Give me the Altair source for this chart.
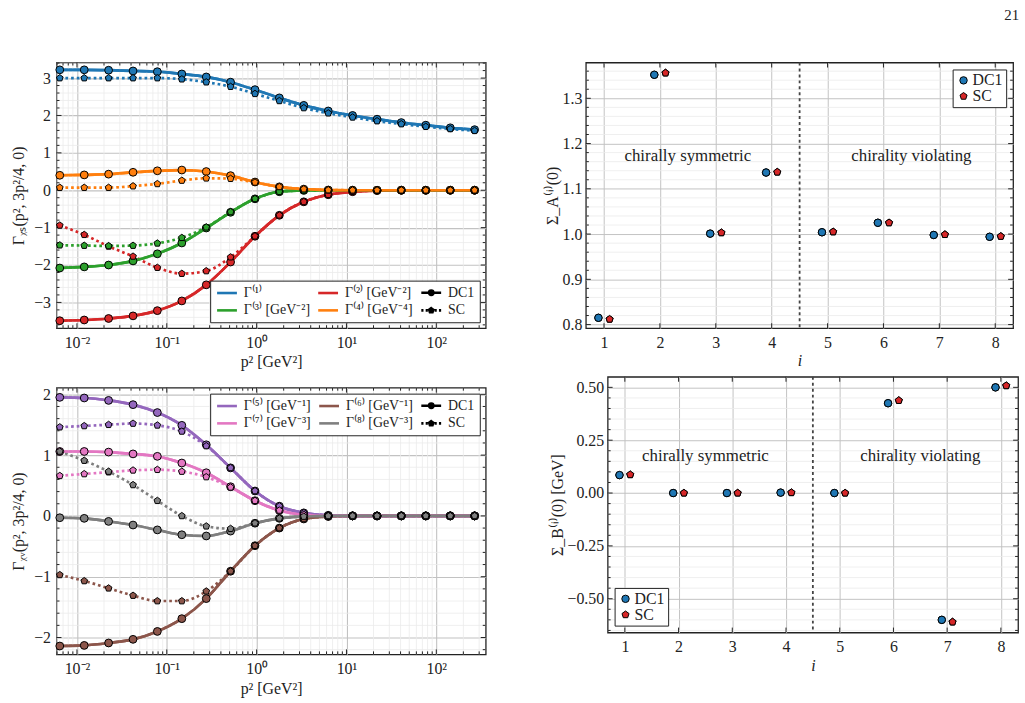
import altair as alt
import numpy as np
import pandas as pd

FONT = "Liberation Serif"
INK = "#222222"

# ---------------- data ----------------
P2 = [0.00644, 0.01205, 0.0225, 0.0421, 0.0785, 0.147, 0.275, 0.513, 0.959,
      1.79, 3.35, 6.27, 11.7, 21.9, 40.8, 76.4, 143, 267]

S_NAMES = ["Γ⁽¹⁾", "Γ⁽²⁾ [GeV⁻²]", "Γ⁽³⁾ [GeV⁻²]", "Γ⁽⁴⁾ [GeV⁻⁴]"]
S_COLORS = ["#1f77b4", "#d62728", "#2ca02c", "#ff7f0e"]

G1_DC1 = [3.22, 3.22, 3.21, 3.19, 3.17, 3.11, 3.03, 2.89, 2.69, 2.47, 2.27, 2.12, 2.00, 1.90, 1.81, 1.74, 1.67, 1.62]
G1_SC = [3.00, 3.00, 3.00, 3.00, 3.00, 2.97, 2.89, 2.77, 2.58, 2.39, 2.20, 2.06, 1.95, 1.85, 1.77, 1.70, 1.64, 1.59]
G2_DC1 = [-3.49, -3.47, -3.43, -3.36, -3.22, -2.96, -2.53, -1.92, -1.23, -0.67, -0.31, -0.12, -0.04, -0.01, 0, 0, 0, 0]
G2_SC = [-0.94, -1.19, -1.50, -1.77, -2.07, -2.23, -2.16, -1.79, -1.23, -0.67, -0.31, -0.12, -0.04, -0.01, 0, 0, 0, 0]
G3_DC1 = [-2.08, -2.05, -2.00, -1.89, -1.70, -1.41, -1.01, -0.59, -0.23, -0.04, -0.005, 0, 0, 0, 0, 0, 0, 0]
G3_SC = [-1.47, -1.48, -1.49, -1.48, -1.42, -1.27, -0.99, -0.58, -0.23, -0.04, -0.005, 0, 0, 0, 0, 0, 0, 0]
G4_DC1 = [0.40, 0.41, 0.43, 0.48, 0.52, 0.54, 0.50, 0.39, 0.22, 0.09, 0.03, 0.005, 0, 0, 0, 0, 0, 0]
G4_SC = [0.07, 0.07, 0.07, 0.11, 0.17, 0.26, 0.32, 0.31, 0.21, 0.09, 0.03, 0.005, 0, 0, 0, 0, 0, 0]

V_NAMES = ["Γ⁽⁵⁾ [GeV⁻¹]", "Γ⁽⁶⁾ [GeV⁻¹]", "Γ⁽⁷⁾ [GeV⁻³]", "Γ⁽⁸⁾ [GeV⁻³]"]
V_COLORS = ["#9467bd", "#8c564b", "#e377c2", "#7f7f7f"]

G5_DC1 = [1.95, 1.94, 1.90, 1.83, 1.70, 1.49, 1.17, 0.79, 0.41, 0.16, 0.05, 0.01, 0, 0, 0, 0, 0, 0]
G5_SC = [1.46, 1.48, 1.50, 1.52, 1.49, 1.39, 1.15, 0.79, 0.41, 0.16, 0.05, 0.01, 0, 0, 0, 0, 0, 0]
G6_DC1 = [-2.14, -2.13, -2.09, -2.03, -1.90, -1.69, -1.36, -0.91, -0.49, -0.20, -0.05, -0.01, 0, 0, 0, 0, 0, 0]
G6_SC = [-0.97, -1.07, -1.19, -1.31, -1.40, -1.40, -1.24, -0.91, -0.49, -0.20, -0.05, -0.01, 0, 0, 0, 0, 0, 0]
G7_DC1 = [1.06, 1.06, 1.05, 1.02, 0.98, 0.87, 0.71, 0.48, 0.25, 0.09, 0.02, 0, 0, 0, 0, 0, 0, 0]
G7_SC = [0.66, 0.69, 0.72, 0.75, 0.76, 0.73, 0.64, 0.47, 0.25, 0.09, 0.02, 0, 0, 0, 0, 0, 0, 0]
G8_DC1 = [-0.03, -0.04, -0.09, -0.15, -0.23, -0.31, -0.33, -0.25, -0.12, -0.04, -0.01, 0, 0, 0, 0, 0, 0, 0]
G8_SC = [1.06, 0.91, 0.73, 0.51, 0.25, 0.00, -0.17, -0.21, -0.12, -0.04, -0.01, 0, 0, 0, 0, 0, 0, 0]

IDX = [1, 2, 3, 4, 5, 6, 7, 8]
SA_DC1 = [0.815, 1.352, 1.001, 1.136, 1.004, 1.025, 0.998, 0.994]
SA_SC = [0.812, 1.356, 1.003, 1.137, 1.005, 1.025, 0.999, 0.995]
SB_DC1 = [0.085, 0.0, 0.0, 0.002, 0.0, 0.425, -0.60, 0.50]
SB_SC = [0.087, 0.0, 0.0, 0.002, 0.0, 0.438, -0.61, 0.508]

ANNOT = ["chirally symmetric", "chirality violating"]
ANNOT_X = [2.5, 6.5]
METHODS = ["DC1", "SC"]
M_COLORS = ["#1f77b4", "#d62728"]

# ---------------- styling helpers ----------------
PENT = "M0,-1L0.951,-0.309L0.588,0.809L-0.588,0.809L-0.951,-0.309Z"
# legend symbols (symbolSize 100 -> 5 px per unit); drawn from x=-5px to x=+15px
SYM_LINE = "M-1,0H3"
SYM_DC1 = ("M-1,0H3M1.44,0A0.44,0.44,0,1,1,0.56,0A0.44,0.44,0,1,1,1.44,0Z"
           "M1.18,0A0.18,0.18,0,1,1,0.82,0A0.18,0.18,0,1,1,1.18,0Z")
SYM_SC = ("M-1,0H-0.56M-0.12,0H0.32M1.68,0H2.12M2.56,0H3"
          "M1,-0.44L1.418,-0.136L1.259,0.356L0.741,0.356L0.582,-0.136Z"
          "M1,-0.16L1.152,-0.049L1.094,0.129L0.906,0.129L0.848,-0.049Z")
SYM_EXPR = ("datum.value === 'DC1' ? '" + SYM_DC1 + "' : (datum.value === 'SC' ? '"
            + SYM_SC + "' : '" + SYM_LINE + "')")
LOG_LBL = ("datum.value < 0.05 ? '10⁻²' : datum.value < 0.5 ? '10⁻¹' : "
           "datum.value < 5 ? '10⁰' : datum.value < 50 ? '10¹' : '10²'")

GRID_MAJOR = "#c2c2c2"
GRID_MINOR = "#ebebeb"
XDOM = [0.00592, 355]
X_MAJ = [0.01, 0.1, 1, 10, 100]
X_MIN = [m * 10.0 ** e for e in range(-3, 3) for m in range(2, 10)
         if XDOM[0] < m * 10.0 ** e < XDOM[1]]
INDEP = dict(color="independent", shape="independent", x="independent", y="independent")


def minor_ticks(lo, hi, step, major_step):
    vals = np.round(np.arange(np.ceil(lo / step) * step, hi, step), 6)
    out = []
    for v in vals:
        r = v / major_step
        if abs(r - round(r)) > 1e-6 and lo < v < hi:
            out.append(float(v))
    return out


def vrule(vals, xs, xaxis, color=INK, width=1.0, y0=None, y1=None):
    enc = dict(x=alt.X("v:Q", scale=xs, axis=xaxis))
    if y0 is not None:
        enc["y"] = alt.value(y0)
        enc["y2"] = alt.value(y1)
    return alt.Chart(pd.DataFrame({"v": vals})).mark_rule(
        color=color, strokeWidth=width).encode(**enc)


def hrule(vals, ys, yaxis, color=INK, width=1.0, x0=None, x1=None):
    enc = dict(y=alt.Y("v:Q", scale=ys, axis=yaxis))
    if x0 is not None:
        enc["x"] = alt.value(x0)
        enc["x2"] = alt.value(x1)
    return alt.Chart(pd.DataFrame({"v": vals})).mark_rule(
        color=color, strokeWidth=width).encode(**enc)


def frame(xs, ys, xaxis, yaxis, xmaj, xmin, ymaj, ymin, W, H):
    L = []
    if xmin:
        L.append(vrule(xmin, xs, xaxis, color=GRID_MINOR, width=0.8))
    if ymin:
        L.append(hrule(ymin, ys, yaxis, color=GRID_MINOR, width=0.8))
    for vals, ln in ((xmaj, 5), (xmin, 3)):
        if vals:
            L.append(vrule(vals, xs, xaxis, y0=H, y1=H - ln))
            L.append(vrule(vals, xs, xaxis, y0=0, y1=ln))
    for vals, ln in ((ymaj, 5), (ymin, 3)):
        if vals:
            L.append(hrule(vals, ys, yaxis, x0=0, x1=ln))
            L.append(hrule(vals, ys, yaxis, x0=W, x1=W - ln))
    return L


def left_panel(names, colors, dc1, sc, ydom, ymaj, ytitle, lorient, W, H):
    rows = []
    for n, a, b in zip(names, dc1, sc):
        for x, v in zip(P2, a):
            rows.append({"series": n, "method": "DC1", "p2": x, "val": v})
        for x, v in zip(P2, b):
            rows.append({"series": n, "method": "SC", "p2": x, "val": v})
    df = pd.DataFrame(rows)
    entries = [names[0], names[1], "DC1", names[2], names[3], "SC"]
    ecolors = [colors[0], colors[1], "black", colors[2], colors[3], "black"]
    cs = alt.Scale(domain=entries, range=ecolors)
    xs = alt.Scale(type="log", domain=XDOM, nice=False)
    ys = alt.Scale(domain=ydom, nice=False, zero=False)
    ymin = minor_ticks(ydom[0], ydom[1], 0.2, 1.0)

    xaxis = alt.Axis(values=X_MAJ, labelExpr=LOG_LBL, title="p² [GeV²]", grid=True,
                     gridColor=GRID_MAJOR, gridWidth=1.1, ticks=False, domain=False,
                     labelPadding=6, titlePadding=4, labelFlush=False)
    yaxis = alt.Axis(values=ymaj, title=ytitle, grid=True, gridColor=GRID_MAJOR,
                     gridWidth=1.1, ticks=False, domain=False, labelPadding=6,
                     titlePadding=7)
    leg = alt.Legend(title=None, orient=lorient, direction="horizontal", columns=3,
                     symbolType={"expr": SYM_EXPR}, symbolSize=100,
                     symbolStrokeWidth=2.6, labelFont=FONT, labelFontSize=14,
                     labelOffset=15, columnPadding=2, rowPadding=2, padding=5,
                     strokeColor=INK, fillColor="white", offset=6, cornerRadius=0)

    base = alt.Chart(df)
    X = alt.X("p2:Q", scale=xs, axis=xaxis)
    Y = alt.Y("val:Q", scale=ys, axis=yaxis)
    lines_dc1 = base.transform_filter("datum.method === 'DC1'").mark_line(
        strokeWidth=2.7, interpolate="monotone", clip=True).encode(
        x=X, y=Y, color=alt.Color("series:N", scale=cs, legend=leg),
        detail="series:N")
    lines_sc = base.transform_filter("datum.method === 'SC'").mark_line(
        strokeWidth=2.7, interpolate="monotone", strokeDash=[2.7, 3], clip=True).encode(
        x=X, y=Y, color=alt.Color("series:N", scale=cs, legend=None), detail="series:N")
    pts_dc1 = base.transform_filter("datum.method === 'DC1'").mark_point(
        shape="circle", filled=True, size=62, stroke="black", strokeWidth=1.0,
        opacity=1).encode(x=X, y=Y, color=alt.Color("series:N", scale=cs, legend=None))
    pts_sc = base.transform_filter("datum.method === 'SC'").mark_point(
        shape=PENT, filled=True, size=50, stroke="black", strokeWidth=1.0,
        opacity=1).encode(x=X, y=Y, color=alt.Color("series:N", scale=cs, legend=None))

    layers = [lines_dc1]
    layers += frame(xs, ys, xaxis, yaxis, X_MAJ, X_MIN, ymaj, ymin, W, H)
    layers += [lines_sc, lines_dc1, pts_dc1, pts_sc]
    return alt.layer(*layers).properties(width=W, height=H)


def right_panel(dc1, sc, xdom, ydom, ymaj, ymin_step, ymaj_step, yfmt, ytitle,
                txt_y, lorient, W, H):
    rows = []
    for k, (a, b) in enumerate(zip(dc1, sc)):
        rows.append({"i": IDX[k], "method": "DC1", "val": a})
        rows.append({"i": IDX[k], "method": "SC", "val": b})
    df = pd.DataFrame(rows)
    xs = alt.Scale(domain=xdom, nice=False, zero=False)
    ys = alt.Scale(domain=ydom, nice=False, zero=False)
    ymin = minor_ticks(ydom[0], ydom[1], ymin_step, ymaj_step)

    xaxis = alt.Axis(values=IDX, format="d", title="i", titleFontStyle="italic",
                     grid=True, gridColor=GRID_MAJOR, gridWidth=1.0, ticks=False,
                     domain=False, labelPadding=6, titlePadding=3)
    yaxis = alt.Axis(values=ymaj, format=yfmt, title=ytitle, grid=True,
                     gridColor=GRID_MAJOR, gridWidth=1.0, ticks=False, domain=False,
                     labelPadding=4, titlePadding=2)
    leg = alt.Legend(title=None, orient=lorient, offset=7, labelFont=FONT,
                     labelFontSize=16, symbolSize=56, labelOffset=1, padding=3,
                     rowPadding=0, strokeColor=INK, fillColor="white",
                     cornerRadius=0, symbolStrokeColor="black",
                     symbolStrokeWidth=1.0)
    X = alt.X("xp:Q", scale=xs, axis=xaxis)
    Y = alt.Y("val:Q", scale=ys, axis=yaxis)
    pts = alt.Chart(df).transform_calculate(
        xp="datum.i + (datum.method === 'DC1' ? -0.1 : 0.1)").mark_point(
        filled=True, size=56, stroke="black", strokeWidth=1.0, opacity=1).encode(
        x=X, y=Y,
        color=alt.Color("method:N", scale=alt.Scale(domain=METHODS, range=M_COLORS),
                        legend=leg),
        shape=alt.Shape("method:N", scale=alt.Scale(domain=METHODS,
                                                     range=["circle", PENT]),
                        legend=leg))
    divider = alt.Chart(pd.DataFrame({"v": [4.5]})).mark_rule(
        color="#444444", strokeWidth=1.8, strokeDash=[3, 3]).encode(
        x=alt.X("v:Q", scale=xs, axis=xaxis))
    txt = alt.Chart(pd.DataFrame({"t": ANNOT, "x": ANNOT_X, "y": [txt_y, txt_y]})).mark_text(
        font=FONT, fontSize=17, color=INK).encode(
        x=alt.X("x:Q", scale=xs, axis=xaxis), y=alt.Y("y:Q", scale=ys, axis=yaxis),
        text="t:N")
    layers = [pts]
    layers += frame(xs, ys, xaxis, yaxis, IDX, [], ymaj, ymin, W, H)
    layers += [divider, txt, pts]
    return alt.layer(*layers).properties(width=W, height=H)


tl = left_panel(S_NAMES, S_COLORS, [G1_DC1, G2_DC1, G3_DC1, G4_DC1],
                [G1_SC, G2_SC, G3_SC, G4_SC], [-3.69, 3.415],
                [-3, -2, -1, 0, 1, 2, 3], "Γᵪₛ(p², 3p²/4, 0)", "bottom-right", 433, 268)
bl = left_panel(V_NAMES, V_COLORS, [G5_DC1, G6_DC1, G7_DC1, G8_DC1],
                [G5_SC, G6_SC, G7_SC, G8_SC], [-2.277, 2.109],
                [-2, -1, 0, 1, 2], "Γᵪᵥ(p², 3p²/4, 0)", "top-right", 433, 269)
tr = right_panel(SA_DC1, SA_SC, [0.675, 8.32], [0.792, 1.379],
                 [0.8, 0.9, 1.0, 1.1, 1.2, 1.3], 0.02, 0.1, ".1f", "Σ_A⁽ⁱ⁾(0)",
                 1.172, "top-right", 431, 268)
br = right_panel(SB_DC1, SB_SC, [0.68, 8.32], [-0.66, 0.55],
                 [-0.5, -0.25, 0.0, 0.25, 0.5], 0.05, 0.25, ".2f",
                 "Σ_B⁽ⁱ⁾(0) [GeV]", 0.174, "bottom-left", 414, 258)

# invisible 1-px spacer that lets the lower-right panel sit right of the upper one
spacer = alt.Chart(pd.DataFrame({"a": [0]})).mark_rule(opacity=0, strokeWidth=0).encode(
    x=alt.value(0), x2=alt.value(1), y=alt.value(0)
).properties(width=1, height=1, view=alt.ViewBackground(stroke="transparent"))

left_col = alt.vconcat(tl, bl, spacing=15).resolve_scale(**INDEP)
br_row = alt.hconcat(spacer, br, spacing=-40).resolve_scale(**INDEP)
right_col = alt.vconcat(tr, br_row, spacing=5).resolve_scale(**INDEP)

chart = alt.hconcat(left_col, right_col, spacing=56).resolve_scale(**INDEP).properties(
    padding={"left": 10, "top": 5, "right": 5, "bottom": 5},
    title=alt.Title("21", anchor="end", fontSize=15, font=FONT,
                    fontWeight="normal", offset=38, color=INK)
).configure_view(stroke=INK, strokeWidth=1.3).configure_axis(
    labelFont=FONT, titleFont=FONT, labelFontSize=16, titleFontSize=16,
    labelColor=INK, titleColor=INK, titleFontWeight="normal"
).configure_legend(labelColor=INK)

chart.save("out.html", embed_options={"renderer": "svg", "actions": False})
